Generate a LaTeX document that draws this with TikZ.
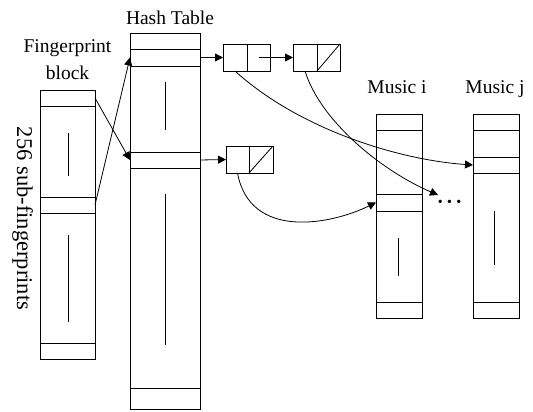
\documentclass[tikz,border=0pt]{standalone}
\usepackage{fontspec}
\setmainfont{Liberation Serif}
\usetikzlibrary{arrows.meta}
\begin{document}
\begin{tikzpicture}[x=1pt,y=-1pt,
  cell/.style={draw, line width=0.8pt, inner sep=0pt, outer sep=0pt, anchor=north west},
  conn/.style={-{Triangle[length=8pt,width=8pt]}, line width=0.8pt},
  gap/.style={line width=0.8pt},
  lbl/.style={font=\fontsize{19.5}{27}\selectfont, inner sep=0pt}]
\useasboundingbox (0,0) rectangle (533,412);
% labels
\node[lbl, anchor=base] (htlbl) at (170,25) {Hash Table};
\node[lbl, anchor=north, align=center] (fblbl) at (67.5,39.7) {Fingerprint\\block};
\node[inner sep=0pt, font=\fontsize{22.5}{27}\selectfont, rotate=-90] (sublbl) at (22.5,218.5) {256 sub-fingerprints};
\node[lbl, anchor=base] (milbl) at (397,93) {Music i};
\node[lbl, anchor=base] (mjlbl) at (495,93) {Music j};
% fingerprint block
\node[cell, minimum width=55pt, minimum height=269pt] (fb) at (40,90) {};
\node[cell, minimum width=55pt, minimum height=16pt] (fb1) at (40,90) {};
\node[cell, minimum width=55pt, minimum height=16pt] (fb2) at (40,197) {};
\node[cell, minimum width=55pt, minimum height=16pt] (fbn) at (40,343) {};
\draw[gap] (68,133) -- (68,176);
\draw[gap] (68,235) -- (68,322);
% hash table
\node[cell, minimum width=70pt, minimum height=376pt] (ht) at (130,33) {};
\node[cell, minimum width=70pt, minimum height=16pt] (ht1) at (130,33) {};
\node[cell, minimum width=70pt, minimum height=17pt] (ht2) at (130,49) {};
\node[cell, minimum width=70pt, minimum height=16pt] (ht3) at (130,152) {};
\node[cell, minimum width=70pt, minimum height=21pt] (htn) at (130,388) {};
\draw[gap] (165,82) -- (165,130);
\draw[gap] (165,194) -- (165,345);
% linked list nodes
\node[cell, minimum width=24pt, minimum height=27pt] (ln1a) at (223,44) {};
\node[cell, minimum width=23pt, minimum height=27pt] (ln1b) at (247,44) {};
\node[cell, minimum width=24pt, minimum height=27pt] (ln2a) at (293,44) {};
\node[cell, minimum width=23pt, minimum height=27pt] (ln2b) at (317,44) {};
\draw[gap] (ln2b.south west) -- (ln2b.north east);
\node[cell, minimum width=23pt, minimum height=27pt] (ln3a) at (226,146) {};
\node[cell, minimum width=24pt, minimum height=27pt] (ln3b) at (249,146) {};
\draw[gap] (ln3b.south west) -- (ln3b.north east);
% music i
\node[cell, minimum width=46pt, minimum height=204pt] (mi) at (376,114) {};
\node[cell, minimum width=46pt, minimum height=16pt] (mi1) at (376,114) {};
\node[cell, minimum width=46pt, minimum height=17pt] (mi2) at (376,194) {};
\node[cell, minimum width=46pt, minimum height=16pt] (min) at (376,302) {};
\draw[gap] (398,238) -- (398,276);
% music j
\node[cell, minimum width=46pt, minimum height=204pt] (mj) at (473,114) {};
\node[cell, minimum width=46pt, minimum height=16pt] (mj1) at (473,114) {};
\node[cell, minimum width=46pt, minimum height=16pt] (mj2) at (473,157) {};
\node[cell, minimum width=46pt, minimum height=16pt] (mjn) at (473,302) {};
\draw[gap] (494,211) -- (494,265);
% dots
\node[inner sep=0pt, font=\fontsize{14}{14}\selectfont] (dots) at (449.5,203) {\textbullet\kern4.4pt\textbullet\kern4.4pt\textbullet};
\coordinate (dotsin) at (438,195);
% connectors
\draw[conn] (fb1.east) -- (ht3.west);
\draw[conn] (fb2.east) -- (ht2.west);
\draw[conn] (ht2.east) -- (ln1a.west);
\draw[conn] (ln1b.center) -- (ln2a.west);
\draw[conn] (ht3.east) -- (ln3a.west);
\draw[conn] (ln1a.south) .. controls (300,130) and (400,160) .. (mj2.west);
\draw[conn] (ln2a.south) .. controls (320,120) and (380,170) .. (dotsin);
\draw[conn] (ln3a.south) .. controls (250,240) and (330,225) .. (mi2.west);
\end{tikzpicture}
\end{document}
